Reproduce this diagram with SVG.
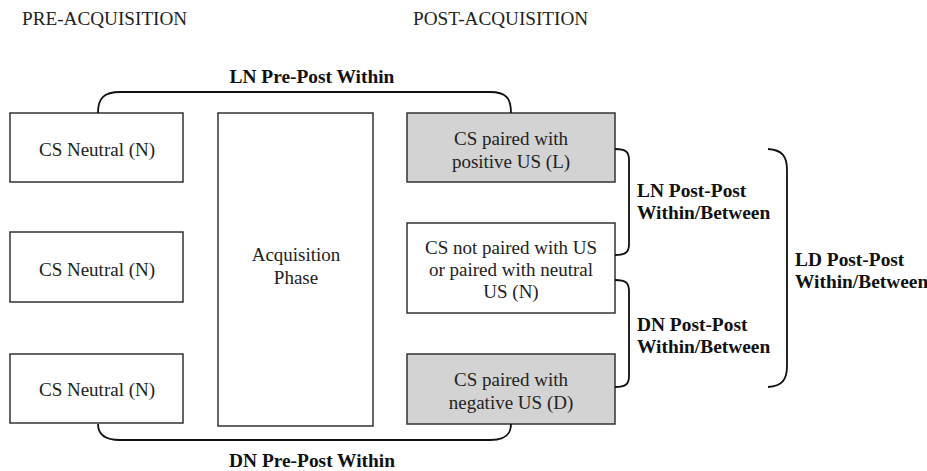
<svg xmlns="http://www.w3.org/2000/svg" width="927" height="471" viewBox="0 0 927 471">
<style>
.box{fill:#fff;stroke:#333;stroke-width:1.5}
.gray{fill:#d3d3d3;stroke:#333;stroke-width:1.5}
.t{font-family:'Liberation Serif',serif;font-size:19px;fill:#222;text-anchor:middle}
.h{font-family:'Liberation Serif',serif;font-size:19.2px;fill:#222}
.b{font-family:'Liberation Serif',serif;font-size:19.4px;font-weight:bold;fill:#111}
.br{fill:none;stroke:#111;stroke-width:1.8}
</style>
<rect width="927" height="471" fill="#fff"/>
<text class="h" x="22" y="25">PRE-ACQUISITION</text>
<text class="h" x="413" y="25">POST-ACQUISITION</text>

<g id="pre1"><rect class="box" x="10" y="113" width="173" height="69"/><text class="t" x="97" y="156">CS Neutral (N)</text></g>
<g id="pre2"><rect class="box" x="10" y="232" width="173" height="70"/><text class="t" x="97" y="276">CS Neutral (N)</text></g>
<g id="pre3"><rect class="box" x="10" y="354" width="173" height="69"/><text class="t" x="97" y="396">CS Neutral (N)</text></g>
<g id="acq"><rect class="box" x="218" y="113" width="155" height="313"/><text class="t" x="296" y="261">Acquisition</text><text class="t" x="296" y="284">Phase</text></g>
<g id="postL"><rect class="gray" x="407" y="113" width="208" height="69"/><text class="t" x="511" y="145">CS paired with</text><text class="t" x="511" y="168">positive US (L)</text></g>
<g id="postN"><rect class="box" x="407" y="223" width="208" height="90"/><text class="t" x="511" y="254">CS not paired with US</text><text class="t" x="511" y="276">or paired with neutral</text><text class="t" x="511" y="298">US (N)</text></g>
<g id="postD"><rect class="gray" x="407" y="354" width="208" height="70"/><text class="t" x="511" y="386">CS paired with</text><text class="t" x="511" y="409">negative US (D)</text></g>

<g id="connectors">
<path class="br" d="M98,113 C98,98 104,92 120,92 L490,92 C506,92 511,98 511,113"/>
<text class="b" x="312" y="83" text-anchor="middle">LN Pre-Post Within</text>
<path class="br" d="M98,424 C98,434 104,440 120,440 L490,440 C506,440 511,434 511,424"/>
<text class="b" x="312" y="467" text-anchor="middle">DN Pre-Post Within</text>
<path class="br" d="M615,149 C626,149 629,152 629,160 L629,244 C629,252 626,255 615,255"/>
<text class="b" x="637" y="197">LN Post-Post</text>
<text class="b" x="637" y="219">Within/Between</text>
<path class="br" d="M615,280 C626,280 629,283 629,291 L629,376 C629,384 626,387 615,387"/>
<text class="b" x="637" y="331">DN Post-Post</text>
<text class="b" x="637" y="353">Within/Between</text>
<path class="br" d="M768,149 C782,150 787,156 787,170 L787,366 C787,380 782,386 768,387"/>
<text class="b" x="795" y="266">LD Post-Post</text>
<text class="b" x="795" y="288">Within/Between</text>
</g>
</svg>
